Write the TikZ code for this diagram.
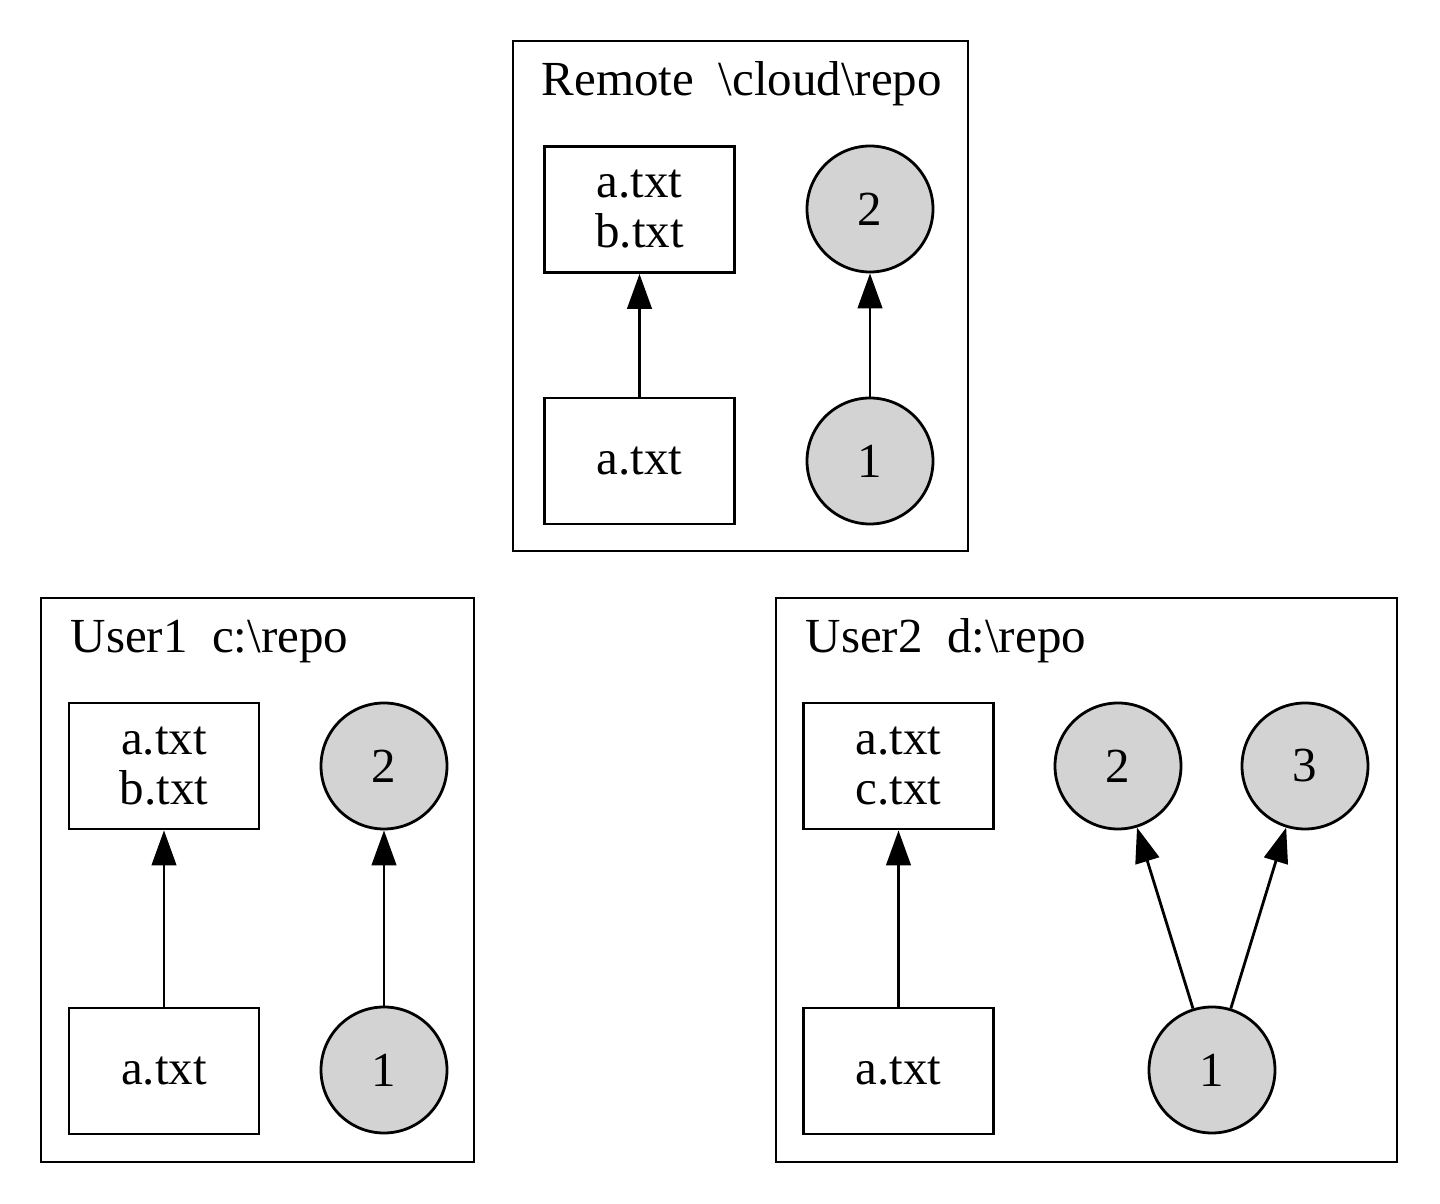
\documentclass[tikz,border=0pt]{standalone}
\usepackage{fontspec}
\setmainfont{Liberation Serif}
\usetikzlibrary{arrows.meta}
\begin{document}
\begin{tikzpicture}[x=0.2857pt,y=-0.2857pt,
  every node/.style={font=\fontsize{14}{14.3}\selectfont},
  cluster/.style={draw=black,line width=0.8pt},
  filebox/.style={draw=black,line width=0.8pt,rectangle,minimum width=54.3pt,minimum height=36pt,inner sep=0pt,align=center},
  commit/.style={draw=black,line width=0.8pt,circle,fill={rgb,255:red,211;green,211;blue,211},minimum size=36pt,inner sep=0pt},
  lbl/.style={anchor=base west,inner sep=0pt},
  edge/.style={line width=0.8pt,-{Triangle[length=10pt,width=7pt]}}]
\useasboundingbox (0,0) rectangle (1440,1204);
% Remote
\draw[cluster] (513,41) rectangle (968,551);
\node[lbl] (rl) at (541,96) {Remote\ \ \textbackslash cloud\textbackslash repo};
\node[filebox] (rb) at (639.5,209.5) {a.txt\\b.txt};
\node[filebox] (ra) at (639.5,461) {a.txt};
\node[commit] (r2) at (870,209) {2};
\node[commit] (r1) at (870,461) {1};
\draw[edge] (ra) -- (rb);
\draw[edge] (r1) -- (r2);
% User1
\draw[cluster] (41,598) rectangle (474,1162);
\node[lbl] (u1l) at (70,653) {User1\ \ c:\textbackslash repo};
\node[filebox] (u1b) at (164,766) {a.txt\\b.txt};
\node[filebox] (u1a) at (164,1071) {a.txt};
\node[commit] (u12) at (384,766) {2};
\node[commit] (u11) at (384,1070) {1};
\draw[edge] (u1a) -- (u1b);
\draw[edge] (u11) -- (u12);
% User2
\draw[cluster] (776,598) rectangle (1397,1162);
\node[lbl] (u2l) at (805,653) {User2\ \ d:\textbackslash repo};
\node[filebox] (u2b) at (898.5,766) {a.txt\\c.txt};
\node[filebox] (u2a) at (898.5,1071) {a.txt};
\node[commit] (u22) at (1118,766) {2};
\node[commit] (u23) at (1305,766) {3};
\node[commit] (u21) at (1212,1070) {1};
\draw[edge] (u2a) -- (u2b);
\draw[edge] (u21) -- (u22);
\draw[edge] (u21) -- (u23);
\end{tikzpicture}
\end{document}
